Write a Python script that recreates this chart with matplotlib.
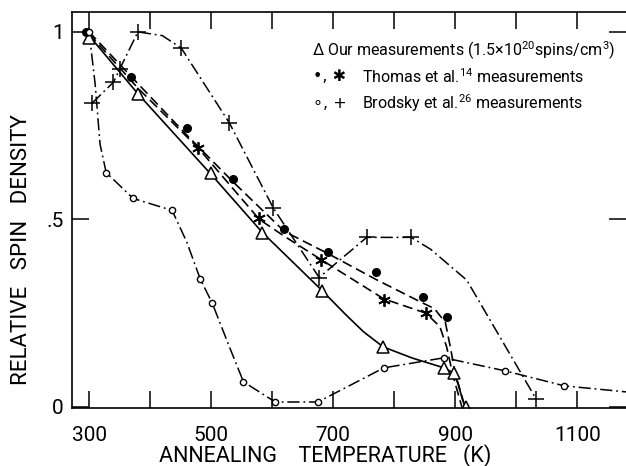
# Relative spin density vs annealing temperature

import matplotlib.pyplot as plt

FONT = ['Roboto', 'DejaVu Sans']
plt.rcParams['font.family'] = FONT
plt.rcParams['mathtext.fontset'] = 'custom'
plt.rcParams['mathtext.rm'] = 'Roboto'

# our measurements (triangles) + solid line
tri_t = [300, 380, 500, 584, 682, 782, 882, 898, 917]
tri_d = [0.985, 0.835, 0.625, 0.465, 0.31, 0.16, 0.104, 0.09, 0.0]
solid_t = [300, 380, 500, 584, 682, 720, 750, 782, 830, 882, 898, 905, 912, 917]
solid_d = [0.99, 0.835, 0.62, 0.465, 0.31, 0.247, 0.2, 0.16, 0.13, 0.104, 0.09, 0.06, 0.02, 0.0]

# Thomas et al. (filled dots, asterisks) + dashed lines
dot_t = [295, 369, 461, 536, 620, 692, 770, 848, 887]
dot_d = [1.0, 0.88, 0.745, 0.607, 0.475, 0.414, 0.36, 0.293, 0.24]
star_t = [479, 579, 680, 783, 852]
star_d = [0.69, 0.503, 0.393, 0.284, 0.25]
dash1_t = [300, 380, 460, 536, 620, 690, 770, 843, 866, 884, 892, 900, 916]
dash1_d = [1.0, 0.862, 0.725, 0.6, 0.468, 0.41, 0.34, 0.28, 0.262, 0.225, 0.16, 0.09, 0.0]
dash2_t = [300, 380, 479, 579, 620, 680, 783, 852, 875, 886, 897, 911]
dash2_d = [0.995, 0.85, 0.69, 0.5, 0.455, 0.393, 0.288, 0.25, 0.214, 0.16, 0.08, 0.0]

# Brodsky et al. (open circles, plus) + dash-dot lines
circ_t = [300, 328, 372, 436, 482, 502, 553, 605, 675, 783, 882, 982, 1079]
circ_d = [1.0, 0.625, 0.556, 0.524, 0.342, 0.276, 0.067, 0.013, 0.013, 0.104, 0.131, 0.096, 0.056]
circ_line_t = [300, 310, 318, 328, 372, 436, 460, 482, 502, 530, 553, 605, 675, 783, 882, 982, 1079, 1180]
circ_line_d = [1.0, 0.86, 0.7, 0.625, 0.556, 0.524, 0.44, 0.342, 0.276, 0.16, 0.067, 0.013, 0.013, 0.104, 0.131, 0.096, 0.056, 0.04]
plus_t = [305, 340, 350, 380, 451, 530, 602, 677, 755, 828, 1033]
plus_d = [0.81, 0.866, 0.9, 1.0, 0.957, 0.757, 0.53, 0.345, 0.452, 0.452, 0.02]
plus_line_t = [305, 340, 350, 380, 420, 451, 530, 602, 677, 755, 828, 860, 919, 1033]
plus_line_d = [0.81, 0.866, 0.9, 1.0, 0.99, 0.957, 0.757, 0.53, 0.345, 0.452, 0.452, 0.42, 0.338, 0.02]

fig = plt.figure(figsize=(6.26, 4.66), dpi=100)
ax = fig.add_axes([72/626, 58/466, 554/626, 396/466])

dashdot = (0, (8, 2.5, 1.2, 2.5))
ax.plot(solid_t, solid_d, color="k", lw=1.2)
ax.plot(dash1_t, dash1_d, color="k", lw=1.2, linestyle=(0, (6, 3)))
ax.plot(dash2_t, dash2_d, color="k", lw=1.2, linestyle=(0, (6, 3)))
ax.plot(circ_line_t, circ_line_d, color="k", lw=1.1, linestyle=dashdot)
ax.plot(plus_line_t, plus_line_d, color="k", lw=1.1, linestyle=dashdot)

ax.plot(tri_t, tri_d, linestyle="none", marker="^", ms=9, mfc="white", mec="k", mew=1.1)
ax.plot(dot_t, dot_d, linestyle="none", marker="o", ms=5.5, color="k")
ax.plot(star_t, star_d, linestyle="none", marker=(6, 2, 0), ms=9, color="k", mew=1.3)
ax.plot(circ_t, circ_d, linestyle="none", marker="o", ms=4.5, mfc="white", mec="k", mew=1)
ax.plot(plus_t, plus_d, linestyle="none", marker="+", ms=11, color="k", mew=1.1)

ax.set_xlim(272, 1180)
ax.set_ylim(-0.003, 1.053)
ax.set_xticks(range(300, 1101, 100))
ax.set_xticklabels(["300", "", "500", "", "700", "", "900", "", "1100"])
ax.set_yticks([0, 0.5, 1])
ax.set_yticklabels(["0", ".5", "1"])
ax.tick_params(direction="in", length=12, width=1.1, top=True, right=True,
               labelsize=15)
ax.tick_params(axis="x", pad=13)
ax.tick_params(axis="y", pad=6)
ax.spines["right"].set_visible(False)
for s in ["left", "bottom", "top"]:
    ax.spines[s].set_linewidth(1.2)

ax.set_xlabel("ANNEALING    TEMPERATURE   (K)", fontsize=15.5)
ax.xaxis.set_label_coords(0.457, -0.091)
ax.set_ylabel("RELATIVE   SPIN   DENSITY", fontsize=16)
ax.yaxis.set_label_coords(-0.072, 0.40)

# key written as text, as in the original figure
fs = 11.5
ax.text(667, 0.95, "Δ", fontsize=fs, va="center")
ax.text(690, 0.95, "Our measurements (1.5×10$^{20}$spins/cm$^{3}$)",
        fontsize=fs, va="center")
ax.text(667, 0.88, "•, ✱", fontsize=fs, va="center", family="DejaVu Sans")
ax.text(747, 0.88, "Thomas et al.$^{14}$ measurements", fontsize=fs, va="center")
ax.text(667, 0.81, "∘, +", fontsize=fs, va="center", family="DejaVu Sans")
ax.text(747, 0.81, "Brodsky et al.$^{26}$ measurements", fontsize=fs, va="center")

fig.savefig("out.png", dpi=100)
